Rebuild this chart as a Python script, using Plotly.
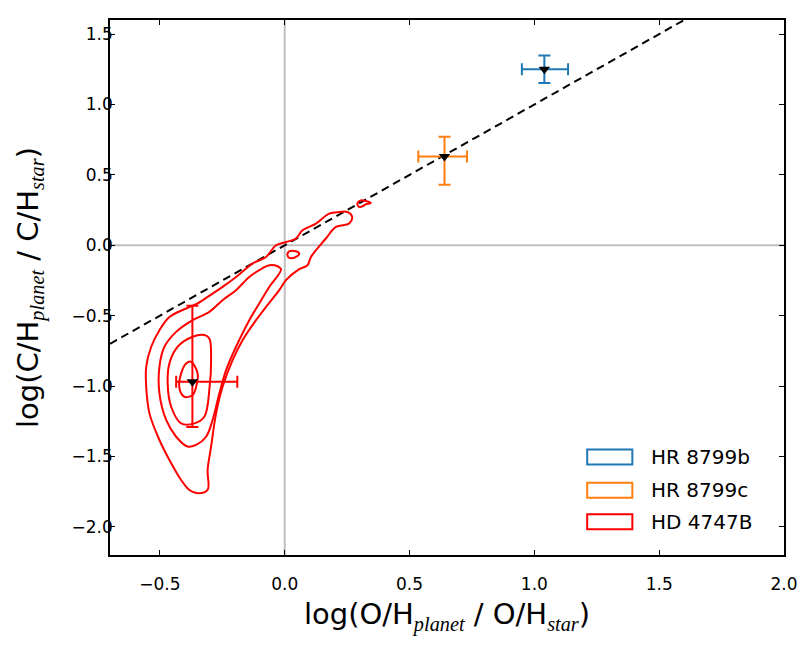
import plotly.graph_objects as go

# measured abundances (log ratio planet / star)
names = ["HR 8799b", "HR 8799c", "HD 4747B"]
colors = ["#1f77b4", "#ff7f0e", "#ff0000"]
oh = [1.04, 0.64, -0.37]
oh_plus = [0.095, 0.09, 0.18]
oh_minus = [0.09, 0.105, 0.065]
ch = [1.25, 0.63, -0.97]
ch_plus = [0.097, 0.14, 0.54]
ch_minus = [0.097, 0.20, 0.32]

# 1:1 line
one_to_one = [-0.7, 2.0]

# HD 4747B posterior contours
c1_x = [0.251, 0.270, 0.258, 0.205, 0.165, 0.105, 0.091, 0.058, 0.005, -0.022, -0.075, -0.115,
        -0.169, -0.209, -0.249, -0.275, -0.295, -0.309, -0.309, -0.349, -0.382, -0.415, -0.462,
        -0.502, -0.542, -0.555, -0.555, -0.535, -0.502, -0.462, -0.395, -0.349, -0.289, -0.249,
        -0.195, -0.129, -0.075, -0.035, 0.005, 0.045, 0.071, 0.125, 0.178, 0.218, 0.251]
c1_y = [0.236, 0.201, 0.154, 0.130, 0.048, -0.083, -0.142, -0.170, -0.248, -0.319, -0.438, -0.532,
        -0.674, -0.816, -1.005, -1.194, -1.430, -1.596, -1.738, -1.761, -1.738, -1.667, -1.525,
        -1.383, -1.194, -1.005, -0.863, -0.721, -0.603, -0.509, -0.449, -0.413, -0.343, -0.296,
        -0.225, -0.130, -0.083, 0.0, 0.023, 0.048, 0.106, 0.154, 0.225, 0.236, 0.236]
c2_x = [-0.015, -0.062, -0.102, -0.142, -0.195, -0.235, -0.262, -0.289, -0.315, -0.355, -0.389,
        -0.435, -0.475, -0.502, -0.502, -0.482, -0.435, -0.369, -0.302, -0.249, -0.195, -0.142,
        -0.102, -0.062, -0.029, -0.015]
c2_y = [-0.172, -0.296, -0.413, -0.532, -0.721, -0.887, -1.052, -1.241, -1.360, -1.418, -1.430,
        -1.360, -1.241, -1.052, -0.863, -0.721, -0.615, -0.532, -0.473, -0.390, -0.319, -0.225,
        -0.177, -0.142, -0.149, -0.172]
c3_x = [-0.322, -0.302, -0.295, -0.302, -0.322, -0.362, -0.415, -0.455, -0.469, -0.462, -0.429,
        -0.369, -0.322]
c3_y = [-0.638, -0.662, -0.792, -1.028, -1.218, -1.265, -1.265, -1.147, -0.981, -0.839, -0.721,
        -0.650, -0.638]
c4_x = [-0.395, -0.375, -0.349, -0.355, -0.369, -0.402, -0.422, -0.415, -0.395]
c4_y = [-0.839, -0.828, -0.910, -1.005, -1.064, -1.076, -1.016, -0.910, -0.839]
isl1_x = [0.011, 0.018, 0.045, 0.058, 0.045, 0.018, 0.011, 0.011]
isl1_y = [-0.059, -0.043, -0.043, -0.059, -0.083, -0.090, -0.071, -0.059]
isl2_x = [0.291, 0.305, 0.325, 0.345, 0.325, 0.311, 0.298, 0.291]
isl2_y = [0.296, 0.319, 0.314, 0.300, 0.291, 0.277, 0.272, 0.296]

xticks = [-0.5, 0.0, 0.5, 1.0, 1.5, 2.0]
yticks = [-2.0, -1.5, -1.0, -0.5, 0.0, 0.5, 1.0, 1.5]

fig = go.Figure()

fig.add_trace(go.Scatter(x=one_to_one, y=one_to_one, mode="lines",
                         line=dict(color="black", width=2, dash="8px,5px"), hoverinfo="skip"))

for cx, cy in [(c1_x, c1_y), (c2_x, c2_y), (c3_x, c3_y), (c4_x, c4_y), (isl1_x, isl1_y), (isl2_x, isl2_y)]:
    fig.add_trace(go.Scatter(x=cx, y=cy, mode="lines", line=dict(color="#ff0000", width=2),
                             line_shape="spline", hoverinfo="skip"))

for i in range(len(names)):
    fig.add_trace(go.Scatter(
        x=[oh[i]], y=[ch[i]], mode="markers", name=names[i],
        marker=dict(symbol="triangle-down", size=10, color="black"),
        error_x=dict(type="data", symmetric=False, array=[oh_plus[i]], arrayminus=[oh_minus[i]],
                     color=colors[i], thickness=2, width=6),
        error_y=dict(type="data", symmetric=False, array=[ch_plus[i]], arrayminus=[ch_minus[i]],
                     color=colors[i], thickness=2, width=6),
    ))

# grey zero lines
fig.add_shape(type="line", xref="x", yref="paper", x0=0, x1=0, y0=0, y1=1,
              line=dict(color="#bfbfbf", width=2), layer="below")
fig.add_shape(type="line", xref="paper", yref="y", x0=0, x1=1, y0=0, y1=0,
              line=dict(color="#bfbfbf", width=2), layer="below")

# legend drawn by hand (patch style boxes)
leg_y = [0.183, 0.121, 0.062]
for i in range(len(names)):
    fig.add_shape(type="rect", xref="paper", yref="paper", x0=0.708, x1=0.775,
                  y0=leg_y[i] - 0.014, y1=leg_y[i] + 0.014,
                  line=dict(color=colors[i], width=2), fillcolor="rgba(0,0,0,0)")
    fig.add_annotation(x=0.800, y=leg_y[i], xref="paper", yref="paper", text=names[i],
                       showarrow=False, xanchor="left", yanchor="middle",
                       font=dict(size=20, color="black"))

sub = '<span style="font-family:Liberation Serif"><i>{}</i></span>'
fig.update_layout(
    width=805, height=664,
    margin=dict(l=102, r=29, t=12, b=117),
    plot_bgcolor="white", paper_bgcolor="white",
    showlegend=False,
    font=dict(family="DejaVu Sans", color="black"),
    xaxis=dict(range=[-0.7, 2.0], tickvals=xticks,
               ticktext=[f"{v:.1f}".replace("-", "\u2212") for v in xticks],
               ticks="inside", ticklen=5, tickcolor="black", mirror="ticks",
               showline=True, linecolor="black", linewidth=1.5, automargin=False,
               showgrid=False, zeroline=False, tickfont=dict(size=17), ticklabelstandoff=13,
               title=dict(text="log(O/H<sub>" + sub.format("planet") + "</sub> / O/H<sub>"
                               + sub.format("star") + "</sub>)", font=dict(size=29), standoff=11)),
    yaxis=dict(range=[-2.2, 1.6], tickvals=yticks,
               ticktext=[f"{v:.1f}".replace("-", "\u2212") for v in yticks],
               ticks="inside", ticklen=5, tickcolor="black", mirror="ticks",
               showline=True, linecolor="black", linewidth=1.5, automargin=False,
               showgrid=False, zeroline=False, tickfont=dict(size=17), ticklabelstandoff=-8,
               title=dict(text="log(C/H<sub>" + sub.format("planet") + "</sub> / C/H<sub>"
                               + sub.format("star") + "</sub>)", font=dict(size=29), standoff=24)),
)

fig.write_html("out.html")
